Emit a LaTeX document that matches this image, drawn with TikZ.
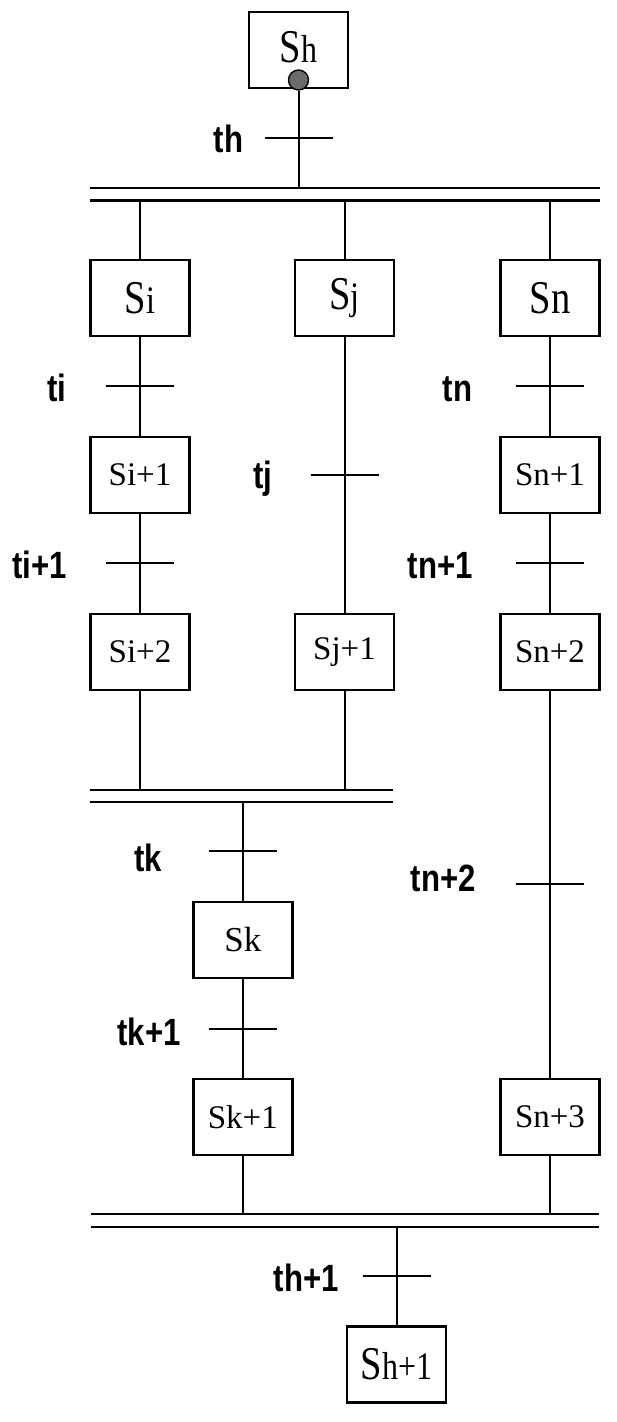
\documentclass[tikz,border=0pt]{standalone}
\usepackage{fontspec}
\setmainfont{Liberation Serif}
\newfontfamily\labfont[FakeStretch=0.82]{Liberation Sans}
\newfontfamily\tallfont[FakeStretch=0.82]{Liberation Serif}
\newcommand\BigS[1]{{\tallfont\fontsize{47}{47}\selectfont S\fontsize{39}{39}\selectfont #1}}
\newcommand\BigSn{{\tallfont\fontsize{47}{47}\selectfont Sn}}
\tikzset{
  stepbox/.style={draw, line width=2.5pt, minimum width=99pt, minimum height=76pt,
    inner sep=0pt, font=\fontsize{33}{33}\selectfont},
  link/.style={line width=2pt},
  tickline/.style={line width=2pt},
  barline/.style={line width=2.1pt},
  tlabel/.style={anchor=base east, inner sep=0pt,
    font=\labfont\bfseries\fontsize{38}{38}\selectfont},
}
\begin{document}
\begin{tikzpicture}[x=1pt,y=-1pt]
\useasboundingbox (0,0) rectangle (616,1422);
\fill[white] (0,0) rectangle (616,1422);
% steps
\node[stepbox] (sh)  at (298.5,50)    {\raisebox{6pt}{\BigS{h}}};
\node[stepbox] (si)  at (140,297.75)  {\BigS{i}};
\node[stepbox] (sj)  at (344.5,297.75){\BigS{j}};
\node[stepbox] (sn)  at (550,297.75)  {\BigSn};
\node[stepbox] (si1) at (140,475)     {Si+1};
\node[stepbox] (sn1) at (550,475)     {Sn+1};
\node[stepbox] (si2) at (140,652.2)   {Si+2};
\node[stepbox] (sj1) at (344.5,652.2) {Sj+1};
\node[stepbox] (sn2) at (550,652.2)   {Sn+2};
\node[stepbox, font=\fontsize{35}{35}\selectfont] (sk) at (242.8,940) {Sk};
\node[stepbox] (sk1) at (242.8,1117)  {Sk+1};
\node[stepbox] (sn3) at (550,1117)    {Sn+3};
\node[stepbox] (sh1) at (396.5,1364.5){\BigS{h+1}};
% initial-step dot
\node[circle, draw, line width=1.4pt, fill=black!58, minimum size=20pt, inner sep=0pt] (dot) at (298.5,80) {};
% bars
\coordinate (tbL1) at (90,188);   \coordinate (tbR1) at (600,188);
\coordinate (tbL2) at (90,200.5); \coordinate (tbR2) at (600,200.5);
\coordinate (mbL1) at (90,790);   \coordinate (mbR1) at (393,790);
\coordinate (mbL2) at (90,802);   \coordinate (mbR2) at (393,802);
\coordinate (bbL1) at (90.5,1214.3); \coordinate (bbR1) at (599,1214.3);
\coordinate (bbL2) at (90.5,1226.7); \coordinate (bbR2) at (599,1226.7);
\draw[barline] (tbL1) -- (tbR1);
\draw[barline] (tbL2) -- (tbR2);
\draw[barline] (mbL1) -- (mbR1);
\draw[barline] (mbL2) -- (mbR2);
\draw[barline] (bbL1) -- (bbR1);
\draw[barline] (bbL2) -- (bbR2);
% links
\draw[link] (dot.south) -- (dot.south |- tbL1);
\draw[link] (si.north) -- (si.north |- tbL2);
\draw[link] (sj.north) -- (sj.north |- tbL2);
\draw[link] (sn.north) -- (sn.north |- tbL2);
\draw[link] (si.south) -- (si1.north);
\draw[link] (si1.south) -- (si2.north);
\draw[link] (sj.south) -- (sj1.north);
\draw[link] (sn.south) -- (sn1.north);
\draw[link] (sn1.south) -- (sn2.north);
\draw[link] (sn2.south) -- (sn3.north);
\draw[link] (si2.south) -- (si2.south |- mbL1);
\draw[link] (sj1.south) -- (sj1.south |- mbL1);
\draw[link] (sk.north) -- (sk.north |- mbL2);
\draw[link] (sk.south) -- (sk1.north);
\draw[link] (sk1.south) -- (sk1.south |- bbL1);
\draw[link] (sn3.south) -- (sn3.south |- bbL1);
\draw[link] (sh1.north) -- (sh1.north |- bbL2);
% transitions
\foreach \n/\x/\y in {th/298.5/138, ti/140/386, tia/140/563, tj/344.5/475,
  tn/550/386, tna/550/563, tk/242.8/851.3, tka/242.8/1028.7,
  tnb/550/884.3, tha/396.5/1276.3} {
  \coordinate (\n) at (\x,\y);
  \draw[tickline] ([xshift=-34pt]\n) -- ([xshift=34pt]\n);
}
% transition labels
\node[tlabel] (lth)  at (243.5,152.7) {th};
\node[tlabel] (lti)  at (66.5,401.7)  {ti};
\node[tlabel] (ltia) at (67,578)      {ti+1};
\node[tlabel] (ltj)  at (272.5,488)   {tj};
\node[tlabel] (ltn)  at (472.5,401.7) {tn};
\node[tlabel] (ltna) at (473,578)     {tn+1};
\node[tlabel] (ltk)  at (162,871.7)   {tk};
\node[tlabel] (ltka) at (181,1045)    {tk+1};
\node[tlabel] (ltnb) at (476,891.7)   {tn+2};
\node[tlabel] (ltha) at (339,1291.7)  {th+1};
\end{tikzpicture}
\end{document}
